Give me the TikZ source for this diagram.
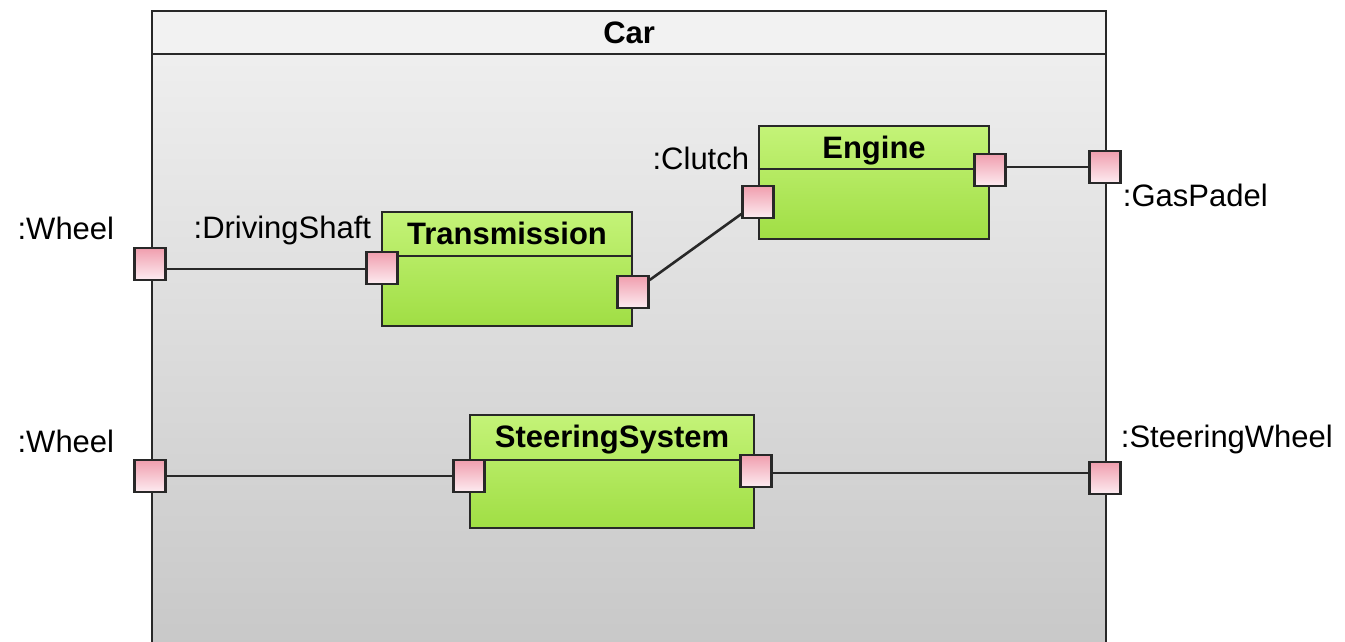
\documentclass[tikz,border=0pt]{standalone}
\usepackage{fontspec}
\setmainfont{Liberation Sans}
\usetikzlibrary{positioning, calc}
\definecolor{linegray}{RGB}{40,40,40}
\definecolor{headgray}{RGB}{242,242,242}
\definecolor{bodytop}{RGB}{241,241,241}
\definecolor{bodybot}{RGB}{200,200,200}
\definecolor{greentop}{RGB}{196,243,120}
\definecolor{greenbot}{RGB}{160,222,68}
\definecolor{porttop}{RGB}{240,158,174}
\definecolor{portbot}{RGB}{253,236,241}

\begin{document}
\begin{tikzpicture}[x=1pt, y=-1pt,
    part/.style={draw=linegray, line width=2.4pt, rectangle, top color=greentop, bottom color=greenbot},
    partline/.style={draw=linegray, line width=2.4pt},
    parttitle/.style={inner sep=0pt, anchor=base, font=\fontsize{31}{37}\selectfont\bfseries},
    port/.style={draw=linegray, line width=2.4pt, rectangle, minimum width=31, minimum height=32, inner sep=0pt, top color=porttop, bottom color=portbot},
    portname/.style={inner sep=0pt, font=\fontsize{31}{37}\selectfont},
    wire/.style={draw=linegray, line width=2.6pt}]
    \useasboundingbox (0,0) rectangle (1345,642);
    \clip (0,0) rectangle (1345,642);

    % Car frame
    \node[draw=linegray, line width=2.4pt, top color=bodytop, bottom color=bodybot, minimum width=954, minimum height=636, anchor=north west, inner sep=0pt] (car) at (151,10) {};
    \node[draw=linegray, line width=2.4pt, fill=headgray, minimum width=954, minimum height=43, anchor=north west, inner sep=0pt, font=\fontsize{31}{37}\selectfont\bfseries] (carhead) at (car.north west) {Car};

    % Transmission node
    \node[part, minimum width=250, minimum height=114] (trans) at (507,269) {};
    \draw[partline] ([yshift=-45pt]trans.north west) -- ([yshift=-45pt]trans.north east);
    \node[parttitle] (transname) at ([yshift=-34pt]trans.north) {Transmission};

    % Engine node
    \node[part, minimum width=230, minimum height=113] (engine) at (874,182.5) {};
    \draw[partline] ([yshift=-44pt]engine.north west) -- ([yshift=-44pt]engine.north east);
    \node[parttitle] (enginename) at ([yshift=-34pt]engine.north) {Engine};

    % Steering system node
    \node[part, minimum width=284, minimum height=113] (steer) at (612,471.5) {};
    \draw[partline] ([yshift=-46pt]steer.north west) -- ([yshift=-46pt]steer.north east);
    \node[parttitle] (steername) at ([yshift=-34pt]steer.north) {SteeringSystem};

    % Ports
    \node[port] (wheela) at (150,264) {};
    \node[port] (shaft) at (382,268) {};
    \node[port] (transout) at (633,292) {};
    \node[port] (clutch) at (758,202) {};
    \node[port] (engineout) at (990,170) {};
    \node[port] (gas) at (1105,167) {};
    \node[port] (wheelb) at (150,476) {};
    \node[port] (steerin) at (469,476) {};
    \node[port] (steerout) at (756,471) {};
    \node[port] (steerwheel) at (1105,478) {};

    % Port names
    \node[portname, above left=7pt and 19pt of wheela.north west] (wheelaname) {:Wheel};
    \node[portname, above left=6pt and -6pt of shaft.north west] (shaftname) {:DrivingShaft};
    \node[portname, above left=15pt and -8pt of clutch.north west] (clutchname) {:Clutch};
    \node[portname, below right=0pt and 1pt of gas.south east] (gasname) {:GasPadel};
    \node[portname, above left=6pt and 19pt of wheelb.north west] (wheelbname) {:Wheel};
    \node[portname, above right=7pt and -1pt of steerwheel.north east] (steerwheelname) {:SteeringWheel};

    % Connectors
    \draw[wire] ([yshift=-5pt]wheela.east) -- ([yshift=-5pt]wheela.east -| shaft.west);
    \draw[wire] (transout) -- (clutch);
    \draw[wire] (gas.west) -- (gas.west -| engineout.east);
    \draw[wire] (wheelb) -- (steerin);
    \draw[wire] ([yshift=-2pt]steerout.east) -- ([yshift=-2pt]steerout.east -| steerwheel.west);
\end{tikzpicture}
\end{document}
